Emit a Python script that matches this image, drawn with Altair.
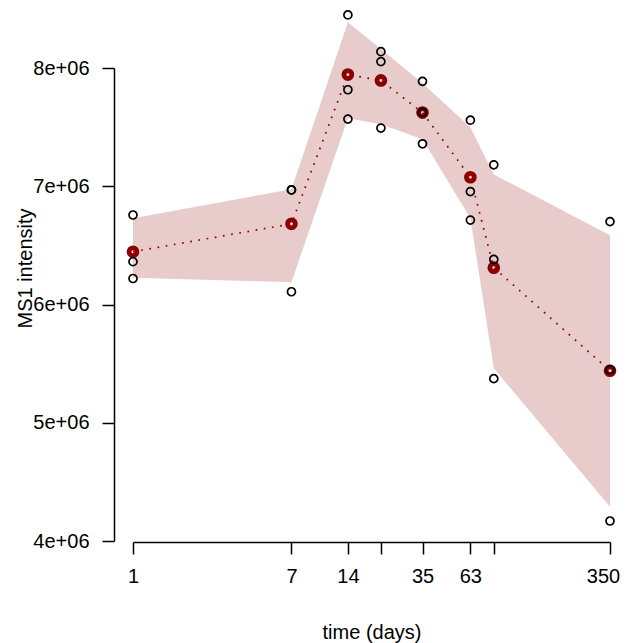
import altair as alt
import pandas as pd

# ---- data ----
days = [1, 7, 14, 21, 35, 63, 84, 350]
rep1 = [6.757e6, 6.969e6, 8.449e6, 8.138e6, 7.887e6, 7.559e6, 7.181e6, 6.701e6]
rep2 = [6.362e6, 6.969e6, 7.816e6, 8.054e6, 7.624e6, 6.955e6, 6.381e6, 5.449e6]
rep3 = [6.220e6, 6.108e6, 7.568e6, 7.492e6, 7.359e6, 6.714e6, 5.373e6, 4.169e6]
band_lower = [6.226e6, 6.189e6, 7.575e6, 7.525e6, 7.398e6, 6.73e6, 5.46e6, 4.29e6]
band_upper = [6.73e6, 6.975e6, 8.387e6, 8.16e6, 7.87e6, 7.50e6, 7.10e6, 6.585e6]

x_ticks = [1, 7, 14, 21, 35, 63, 84, 350]
x_labels = ["1", "7", "14", "", "35", "63", "", "350"]
y_ticks = [4e6, 5e6, 6e6, 7e6, 8e6]
y_labels = ["4e+06", "5e+06", "6e+06", "7e+06", "8e+06"]

# ---- tables ----
pts = pd.DataFrame({
    "day": days * 3,
    "value": rep1 + rep2 + rep3,
})
band = pd.DataFrame({"day": days, "lower": band_lower, "upper": band_upper})

FONT = "Liberation Sans"
RED = "#8B0000"

def arr(v):
    return "[" + ",".join(repr(s) if isinstance(s, str) else str(s) for s in v) + "]"

x_axis = alt.Axis(
    values=x_ticks,
    labelExpr=f"{arr(x_labels)}[indexof({arr(x_ticks)}, datum.value)]",
    labelOffset={"condition": {"test": "datum.value == 350", "value": -7}, "value": 0},
    title="time (days)",
    offset=1,
    labelPadding=12,
    titleX=238.5,
    titleY=90,
    titleAlign="center",
    titleBaseline="middle",
)
y_axis = alt.Axis(
    values=y_ticks,
    labelExpr=f"{arr(y_labels)}[indexof({arr(y_ticks)}, datum.value)]",
    title="MS1 intensity",
    offset=19,
    labelPadding=13,
    labelAngle=0,
    titleAngle=270,
    titleX=-83,
    titleY=200,
    titleAlign="center",
    titleBaseline="alphabetic",
)

x_scale = alt.Scale(type="log", domain=[1, 350], nice=False)
y_scale = alt.Scale(domain=[4e6, 8e6], nice=False, zero=False)

xe = alt.X("day:Q", scale=x_scale, axis=x_axis)

area = alt.Chart(band).mark_area(color=RED, opacity=0.2).encode(
    x=xe,
    y=alt.Y("lower:Q", scale=y_scale, axis=y_axis),
    y2="upper:Q",
)

red_pts = alt.Chart(pts).mark_point(
    shape="circle", filled=False, color=RED, strokeWidth=4.8, size=62, opacity=1
).encode(
    x=xe,
    y=alt.Y("mean(value):Q", scale=y_scale, axis=y_axis),
)

line = alt.Chart(pts).mark_line(
    color=RED, strokeDash=[1.7, 6.6], strokeWidth=1.7, strokeCap="butt"
).encode(
    x=xe,
    y=alt.Y("mean(value):Q", scale=y_scale, axis=y_axis),
)

black_pts = alt.Chart(pts).mark_point(
    shape="circle", filled=False, color="black", strokeWidth=1.7, size=64, opacity=1
).encode(
    x=xe,
    y=alt.Y("value:Q", scale=y_scale, axis=y_axis),
)

chart = alt.layer(area, red_pts, line, black_pts).properties(
    width=477,
    height=473,
    autosize=alt.AutoSizeParams(type="none"),
    padding={"left": 125, "top": 60, "right": 12, "bottom": 102},
).configure_view(stroke=None).configure_axis(
    grid=False,
    domainColor="black",
    tickColor="black",
    domainWidth=1.5,
    tickWidth=1.5,
    tickSize=12,
    labelFont=FONT,
    labelFontSize=20,
    labelColor="black",
    labelFlush=False,
    labelOverlap=False,
    labelBound=False,
    titleFont=FONT,
    titleFontSize=20,
    titleFontWeight="normal",
    titleColor="black",
)

chart.save("out.html", embed_options={"renderer": "svg", "actions": False})
